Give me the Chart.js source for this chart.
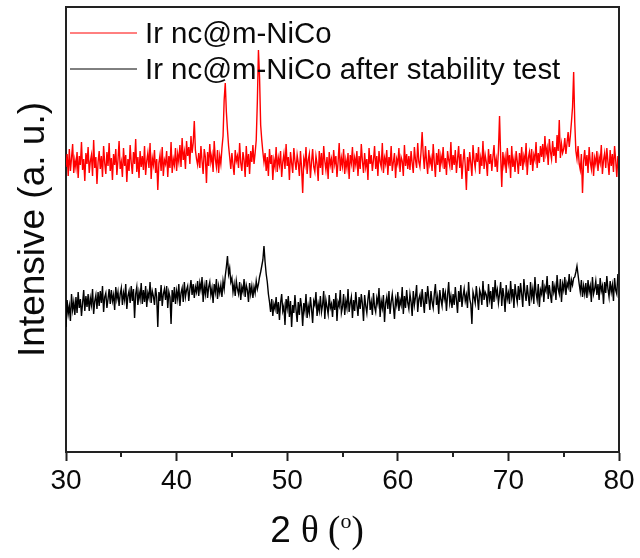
<!DOCTYPE html>
<html>
<head>
<meta charset="utf-8">
<script src="https://cdn.jsdelivr.net/npm/chart.js@4.4.1/dist/chart.umd.min.js"></script>
<style>
  html, body { margin: 0; padding: 0; background: #fff; }
</style>
</head>
<body>
<canvas id="xrd" width="640" height="558"></canvas>
<script>
// XRD patterns, Ir nc@m-NiCo before / after stability test
// values, 0.1 degree steps from 30 to 80

const thetaStart = 30;
const thetaStep = 0.1;

const seriesNames = ['Ir nc@m-NiCo', 'Ir nc@m-NiCo after stability test'];

const freshCounts = [
    285, 298, 276, 303, 281, 294, 308, 279, 292, 284,
    300, 274, 296, 287, 310, 282, 293, 271, 299, 288,
    305, 279, 291, 297, 276, 312, 284, 295, 268, 290,
    301, 283, 296, 275, 306, 289, 278, 300, 286, 309,
    281, 294, 272, 298, 287, 303, 277, 292, 311, 283,
    290, 275, 304, 286, 297, 270, 293, 281, 307, 289,
    278, 300, 288, 313, 280, 295, 274, 301, 285, 296,
    282, 306, 277, 291, 299, 284, 309, 273, 294, 287,
    302, 279, 293, 262, 289, 297, 281, 305, 276, 292,
    288, 301, 275, 296, 284, 310, 279, 293, 287, 304,
    281, 298, 290, 307, 285, 314, 292, 300, 283, 311,
    296, 305, 288, 316, 299, 309, 331, 302, 293, 287,
    299, 284, 306, 291, 278, 303, 295, 269, 300, 286,
    308, 290, 297, 280, 311, 293, 285, 302, 279, 296,
    288, 304, 316, 352, 369, 340, 322, 306, 295, 283,
    299, 287, 277, 302, 291, 296, 284, 309, 289, 281,
    300, 292, 275, 306, 285, 298, 278, 301, 290, 307,
    288, 299, 312, 350, 402, 375, 327, 312, 300, 290,
    299, 281, 295, 276, 303, 288, 297, 272, 292, 285,
    305, 280, 294, 287, 301, 275, 290, 298, 283, 308,
    286, 295, 272, 300, 289, 279, 304, 291, 282, 297,
    289, 276, 301, 284, 259, 293, 287, 305, 278, 292,
    298, 274, 290, 303, 285, 280, 296, 288, 271, 301,
    284, 299, 277, 306, 291, 282, 295, 273, 300, 287,
    293, 279, 302, 288, 296, 275, 290, 309, 281, 294,
    286, 303, 278, 292, 284, 299, 273, 297, 289, 305,
    280, 294, 287, 301, 276, 296, 283, 308, 291, 279,
    299, 285, 293, 272, 304, 288, 297, 281, 292, 306,
    283, 296, 276, 301, 290, 285, 309, 279, 294, 288,
    302, 277, 295, 286, 306, 281, 290, 299, 274, 293,
    288, 304, 280, 295, 291, 276, 307, 286, 298, 283,
    296, 282, 301, 289, 279, 305, 292, 284, 309, 290,
    285, 300, 320, 297, 283, 306, 291, 278, 302, 288,
    294, 281, 308, 290, 275, 299, 287, 303, 280, 296,
    289, 305, 283, 294, 277, 301, 292, 286, 310, 282,
    297, 287, 302, 279, 293, 306, 284, 298, 273, 291,
    303, 286, 262, 295, 281, 300, 289, 276, 307, 292,
    284, 299, 290, 305, 278, 294, 286, 311, 283, 297,
    290, 276, 303, 288, 298, 281, 295, 307, 285, 293,
    280, 302, 336, 296, 265, 300, 287, 295, 279, 304,
    289, 297, 274, 306, 285, 293, 280, 301, 291, 278,
    299, 286, 305, 282, 296, 290, 309, 277, 294, 300,
    287, 303, 281, 297, 292, 310, 284, 299, 289, 306,
    295, 308, 290, 316, 298, 304, 287, 313, 300, 293,
    311, 296, 305, 289, 317, 301, 332, 294, 308, 299,
    303, 314, 298, 309, 320, 305, 316, 330, 345, 380,
    330, 301, 293, 306, 288, 282, 298, 259, 291, 302,
    286, 297, 279, 305, 290, 283, 300, 276, 294, 288,
    301, 281, 295, 289, 307, 278, 292, 299, 284, 304,
    290, 277, 302, 286, 298, 280, 306, 292, 275, 296,
    288
];

const testedCounts = [
    125, 152, 138, 146, 131, 158, 142, 150, 137, 155,
    139, 160, 144, 153, 136, 149, 162, 141, 156, 145,
    158, 141, 154, 147, 163, 138, 151, 157, 143, 160,
    146, 161, 149, 166, 140, 155, 159, 144, 153, 163,
    148, 162, 151, 157, 142, 165, 153, 160, 146, 158,
    164, 147, 159, 152, 168, 143, 156, 161, 149, 166,
    151, 163, 134, 158, 165, 147, 160, 153, 169, 148,
    162, 150, 166, 145, 159, 154, 170, 149, 161, 156,
    147, 164, 155, 125, 160, 151, 167, 146, 158, 163,
    152, 166, 144, 160, 155, 128, 162, 150, 165, 148,
    161, 153, 168, 146, 159, 164, 150, 170, 155, 162,
    166, 151, 163, 172, 157, 168, 154, 165, 160, 171,
    156, 169, 162, 175, 150, 166, 158, 172, 154, 165,
    170, 157, 164, 149, 168, 160, 173, 153, 166, 159,
    167, 155, 171, 163, 176, 185, 196, 178, 184, 170,
    174, 160, 168, 156, 171, 163, 158, 170, 152, 165,
    160, 173, 155, 167, 162, 150, 169, 158, 166, 154,
    165, 159, 171, 163, 168, 175, 180, 186, 192, 206,
    190, 178, 170, 158, 150, 140, 153, 136, 148, 143,
    155, 138, 150, 132, 149, 158, 141, 146, 127, 153,
    144, 156, 135, 151, 125, 147, 139, 157, 142, 130,
    150, 137, 154, 145, 126, 149, 141, 158, 134, 146,
    139, 155, 143, 129, 151, 147, 160, 136, 148, 141,
    156, 140, 147, 161, 133, 152, 145, 138, 157, 144,
    148, 135, 153, 142, 159, 131, 150, 146, 162, 139,
    145, 158, 137, 151, 144, 163, 140, 149, 155, 134,
    152, 141, 160, 147, 136, 155, 143, 158, 148, 131,
    157, 146, 139, 153, 162, 142, 150, 137, 159, 145,
    140, 154, 148, 164, 135, 151, 144, 157, 130, 149,
    155, 143, 161, 138, 150, 158, 146, 133, 153, 147,
    160, 141, 152, 147, 165, 138, 156, 144, 162, 149,
    143, 158, 150, 136, 161, 147, 155, 167, 140, 153,
    157, 145, 163, 151, 139, 160, 148, 166, 154, 142,
    161, 150, 144, 158, 168, 147, 155, 138, 162, 152,
    146, 164, 153, 159, 141, 157, 170, 149, 156, 144,
    158, 147, 165, 152, 139, 161, 150, 167, 145, 156,
    163, 151, 157, 144, 170, 153, 148, 128, 160, 155,
    149, 166, 154, 142, 162, 158, 147, 171, 152, 160,
    157, 145, 168, 153, 161, 143, 165, 150, 172, 156,
    162, 149, 158, 170, 146, 164, 155, 140, 167, 153,
    159, 148, 171, 155, 163, 144, 168, 157, 150, 166,
    152, 169, 158, 145, 173, 160, 151, 167, 156, 146,
    170, 155, 163, 148, 175, 159, 152, 168, 145, 162,
    158, 172, 150, 165, 161, 176, 153, 167, 157, 149,
    171, 160, 166, 152, 177, 163, 158, 173, 150, 168,
    162, 175, 157, 169, 165, 178, 160, 172, 167, 174,
    175, 180, 186, 177, 168, 160, 172, 155, 166, 158,
    169, 154, 172, 160, 166, 150, 175, 158, 163, 171,
    157, 168, 152, 174, 161, 166, 148, 170, 159, 176,
    163, 155, 171, 160, 167, 151, 174, 162, 158, 178,
    165
];

const xTickValues = [30, 40, 50, 60, 70, 80];
const xMinorTicks = [35, 45, 55, 65, 75];

const sans = "'Liberation Sans', Arial, sans-serif";
const serif = "'Liberation Serif', 'Times New Roman', serif";
const axisColor = '#222';

const twoTheta = freshCounts.map((_, i) => +(thetaStart + i * thetaStep).toFixed(1));
const toPoints = arr => arr.map((y, i) => ({ x: twoTheta[i], y }));

// frame, minor ticks, legend and the x title (has a superscript)
const decorations = {
    id: 'decorations',
    afterDatasetsDraw(chart) {
        const { ctx } = chart;
        ctx.save();

        // legend in the top left corner
        const rows = [
            { label: seriesNames[0], color: '#ff0000', y: 34 },
            { label: seriesNames[1], color: '#000000', y: 70 }
        ];
        ctx.font = '29.4px ' + sans;
        ctx.textBaseline = 'middle';
        rows.forEach(r => {
            ctx.strokeStyle = r.color;
            ctx.lineWidth = 1;
            ctx.beginPath();
            ctx.moveTo(70, r.y - 1);
            ctx.lineTo(137, r.y - 1);
            ctx.stroke();
            ctx.fillStyle = '#0a0a0a';
            ctx.fillText(r.label, 145, r.y + 1);
        });
        ctx.restore();
    },
    afterDraw(chart) {
        const { ctx, chartArea: a, scales: { x } } = chart;
        ctx.save();
        ctx.strokeStyle = axisColor;
        ctx.lineWidth = 2;
        ctx.beginPath();
        ctx.moveTo(a.left, a.top);
        ctx.lineTo(a.right, a.top);
        ctx.lineTo(a.right, a.bottom);
        ctx.stroke();

        // minor ticks
        xMinorTicks.forEach(v => {
            const px = Math.round(x.getPixelForValue(v));
            ctx.beginPath();
            ctx.moveTo(px, a.bottom);
            ctx.lineTo(px, a.bottom + 5);
            ctx.stroke();
        });

        // x title: 2 θ (°) with a raised o
        const parts = [
            { t: '2 ', f: '37px ' + sans, dy: 0 },
            { t: 'θ (', f: '37px ' + serif, dy: 0 },
            { t: 'o', f: '22px ' + serif, dy: -14 },
            { t: ')', f: '37px ' + serif, dy: 0 }
        ];
        let total = 0;
        parts.forEach(p => { ctx.font = p.f; p.w = ctx.measureText(p.t).width; total += p.w; });
        let cx = 317 - total / 2;
        ctx.fillStyle = '#0a0a0a';
        ctx.textBaseline = 'alphabetic';
        parts.forEach(p => {
            ctx.font = p.f;
            ctx.fillText(p.t, cx, 542 + p.dy);
            cx += p.w;
        });
        ctx.restore();
    }
};

new Chart(document.getElementById('xrd'), {
    type: 'line',
    data: {
        datasets: [{
            label: seriesNames[0],
            data: toPoints(freshCounts),
            borderColor: '#ff0000',
            borderWidth: 1.4
        }, {
            label: seriesNames[1],
            data: toPoints(testedCounts),
            borderColor: '#000000',
            borderWidth: 1.4
        }]
    },
    options: {
        responsive: false,
        animation: false,
        devicePixelRatio: 1,
        layout: { padding: { top: 7, right: 21, left: 0, bottom: 0 } },
        elements: { point: { radius: 0 }, line: { tension: 0 } },
        plugins: { legend: { display: false }, tooltip: { enabled: false } },
        scales: {
            x: {
                type: 'linear',
                min: 30,
                max: 80,
                afterBuildTicks: s => { s.ticks = xTickValues.map(v => ({ value: v })); },
                ticks: { font: { size: 28, family: sans }, color: '#0a0a0a', padding: 3, maxRotation: 0, autoSkip: false },
                grid: { drawOnChartArea: false, tickLength: 9, tickWidth: 2, color: axisColor },
                border: { color: axisColor, width: 2 },
                afterFit: s => { s.height = 106; }
            },
            y: {
                min: 0,
                max: 445,
                ticks: { display: false },
                grid: { display: false },
                border: { color: axisColor, width: 2 },
                title: {
                    display: true,
                    text: 'Intensive (a. u.)',
                    font: { size: 37, family: sans },
                    color: '#0a0a0a',
                    padding: { top: 12, bottom: 0 }
                },
                afterFit: s => { s.width = 66; }
            }
        }
    },
    plugins: [decorations]
});
</script>
</body>
</html>
